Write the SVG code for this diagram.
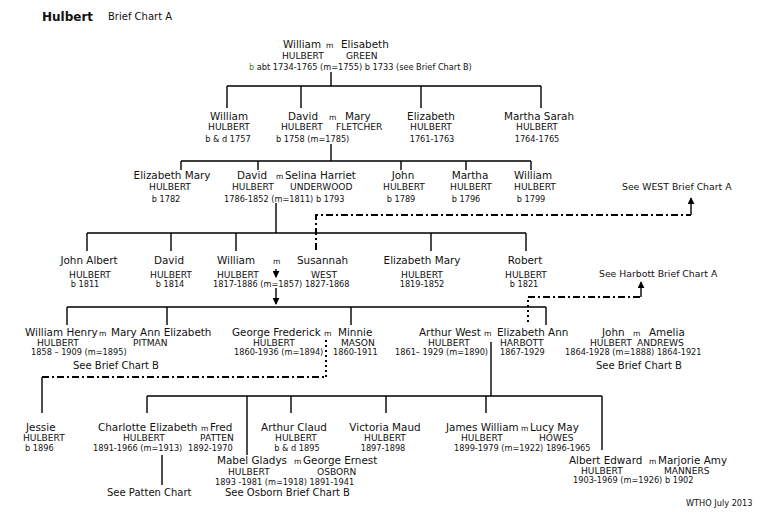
<svg xmlns="http://www.w3.org/2000/svg" width="774" height="523" viewBox="0 0 774 523">
<style>
text{font-family:"DejaVu Sans","Liberation Sans",sans-serif;fill:#111}
.ttl{font-size:12px;font-weight:bold}
.sub{font-size:10px}
.nm{font-size:10.4px}
.sn{font-size:9.1px}
.dt{font-size:8.2px}
.mm{font-size:7.6px}
.see{font-size:10px}
.ref{font-size:9.3px}
.c{text-anchor:middle}
.ln{stroke:#000;stroke-width:1.4;fill:none}
.dd{stroke:#000;stroke-width:2;fill:none;stroke-dasharray:7,3,2,3}
.dot{stroke:#000;stroke-width:2;fill:none;stroke-dasharray:2,3}
</style>
<defs>
<marker id="ah" viewBox="0 0 8 8" refX="7" refY="4" markerWidth="7" markerHeight="7" orient="auto" markerUnits="userSpaceOnUse">
<path d="M0,0 L8,4 L0,8 Z" fill="#000"/>
</marker>
</defs>
<rect width="774" height="523" fill="#fff"/>

<g id="title">
<text class="ttl" x="42" y="21">Hulbert</text>
<text class="sub" x="108" y="20">Brief Chart A</text>
</g>

<g id="connectors">
<!-- generation 1 -->
<path class="ln" d="M331,72 V86 M227,86 H541 M227,86 V108 M301,86 V108 M421,86 V108 M541,86 V108"/>
<!-- generation 2 -->
<path class="ln" d="M331,144 V161 M181,161 H531 M181,161 V170 M258,161 V170 M401,161 V170 M466,161 V170 M531,161 V170"/>
<!-- generation 3 -->
<path class="ln" d="M276,203 V233 M87,233 H526 M87,233 V251 M171,233 V251 M236,233 V251 M431,233 V251 M526,233 V251"/>
<!-- William & Susannah arrows -->
<path class="ln" d="M276,269 V277" marker-end="url(#ah)"/>
<path class="ln" d="M276,288 V304" marker-end="url(#ah)"/>
<!-- generation 4 -->
<path class="ln" d="M67,307 H546 M67,307 V325 M167,307 V325 M351,307 V325 M546,307 V325"/>
<path class="ln" d="M491,342 V396"/>
<!-- generation 5 -->
<path class="ln" d="M147,396 H602 M147,396 V413 M247,396 V455 M291,396 V413 M386,396 V413 M486,396 V413 M602,396 V450"/>
<path class="ln" d="M162,455 V485"/>
<!-- WEST link -->
<path class="dd" d="M316,250 V215 H691"/>
<path class="ln" d="M691,215 V198" marker-end="url(#ah)"/>
<!-- Harbott link -->
<path class="dot" d="M528,322 V297"/>
<path class="dd" d="M528,297 H641"/>
<path class="ln" d="M641,297 V282" marker-end="url(#ah)"/>
<!-- Jessie link -->
<path class="ln" d="M42,413 V377"/>
<path class="dd" d="M42,377 H326"/>
<path class="dot" d="M326,377 V338"/>
</g>

<g id="william-elisabeth">
<text class="nm" x="283" y="48">William</text>
<text class="mm" x="326" y="48">m</text>
<text class="nm" x="341" y="48">Elisabeth</text>
<text class="sn" x="282" y="58.5">HULBERT</text>
<text class="sn" x="346" y="58.5">GREEN</text>
<text class="dt" x="249" y="69.5"><tspan fill="#4a7d2a">b</tspan> abt 1734-1765 (m=1755) b 1733 (see Brief Chart B)</text>
</g>

<g id="william-1757">
<text class="nm c" x="229" y="120">William</text>
<text class="sn c" x="229" y="129.5">HULBERT</text>
<text class="dt c" x="228" y="142">b &amp; d 1757</text>
</g>
<g id="david-mary">
<text class="nm" x="288" y="120">David</text>
<text class="mm" x="329" y="120">m</text>
<text class="nm" x="345" y="120">Mary</text>
<text class="sn" x="281" y="129.5">HULBERT</text>
<text class="sn" x="336" y="129.5">FLETCHER</text>
<text class="dt" x="276" y="142">b 1758  (m=1785)</text>
</g>
<g id="elizabeth-1761">
<text class="nm c" x="431" y="120">Elizabeth</text>
<text class="sn c" x="431" y="129.5">HULBERT</text>
<text class="dt c" x="432" y="142">1761-1763</text>
</g>
<g id="martha-sarah">
<text class="nm c" x="539" y="120">Martha Sarah</text>
<text class="sn c" x="537" y="129.5">HULBERT</text>
<text class="dt c" x="537" y="142">1764-1765</text>
</g>

<g id="elizabeth-mary-1782">
<text class="nm c" x="172" y="179">Elizabeth Mary</text>
<text class="sn c" x="170" y="190">HULBERT</text>
<text class="dt c" x="166" y="202">b 1782</text>
</g>
<g id="david-selina">
<text class="nm" x="237" y="179">David</text>
<text class="mm" x="276" y="179">m</text>
<text class="nm" x="285" y="179">Selina Harriet</text>
<text class="sn" x="232" y="190">HULBERT</text>
<text class="sn" x="290" y="190">UNDERWOOD</text>
<text class="dt" x="224" y="202">1786-1852 (m=1811)  b 1793</text>
</g>
<g id="john-1789">
<text class="nm c" x="403" y="179">John</text>
<text class="sn c" x="404" y="190">HULBERT</text>
<text class="dt c" x="401" y="202">b 1789</text>
</g>
<g id="martha-1796">
<text class="nm c" x="470" y="179">Martha</text>
<text class="sn c" x="471" y="190">HULBERT</text>
<text class="dt c" x="466" y="202">b 1796</text>
</g>
<g id="william-1799">
<text class="nm c" x="533" y="179">William</text>
<text class="sn c" x="535" y="190">HULBERT</text>
<text class="dt c" x="531" y="202">b 1799</text>
</g>
<g id="see-west">
<text class="ref" x="622" y="190">See WEST Brief Chart A</text>
</g>

<g id="john-albert">
<text class="nm c" x="89" y="264">John Albert</text>
<text class="sn c" x="90" y="277.5">HULBERT</text>
<text class="dt c" x="85" y="286.5">b 1811</text>
</g>
<g id="david-1814">
<text class="nm c" x="169" y="264">David</text>
<text class="sn c" x="171" y="277.5">HULBERT</text>
<text class="dt c" x="170" y="286.5">b 1814</text>
</g>
<g id="william-susannah">
<text class="nm" x="217" y="264">William</text>
<text class="mm" x="273" y="264">m</text>
<text class="nm" x="297" y="264">Susannah</text>
<text class="sn" x="217" y="277.5">HULBERT</text>
<text class="sn" x="311" y="277.5">WEST</text>
<text class="dt" x="213" y="286.5">1817-1886 (m=1857) 1827-1868</text>
</g>
<g id="elizabeth-mary-1819">
<text class="nm c" x="422" y="264">Elizabeth Mary</text>
<text class="sn c" x="422" y="277.5">HULBERT</text>
<text class="dt c" x="422" y="286.5">1819-1852</text>
</g>
<g id="robert">
<text class="nm c" x="525" y="264">Robert</text>
<text class="sn c" x="526" y="277.5">HULBERT</text>
<text class="dt c" x="524" y="286.5">b 1821</text>
</g>
<g id="see-harbott">
<text class="ref" x="599" y="277">See Harbott Brief Chart  A</text>
</g>

<g id="william-henry-mary-ann">
<text class="nm" x="25" y="335.5">William Henry</text>
<text class="mm" x="99" y="335.5">m</text>
<text class="nm" x="111" y="335.5">Mary Ann Elizabeth</text>
<text class="sn" x="37" y="345.5">HULBERT</text>
<text class="sn" x="133" y="345.5">PITMAN</text>
<text class="dt" x="31" y="355">1858 – 1909 (m=1895)</text>
<text class="see" x="73" y="369">See Brief Chart B</text>
</g>
<g id="george-minnie">
<text class="nm" x="232" y="335.5">George Frederick</text>
<text class="mm" x="324" y="335.5">m</text>
<text class="nm" x="338" y="335.5">Minnie</text>
<text class="sn" x="253" y="345.5">HULBERT</text>
<text class="sn" x="341" y="345.5">MASON</text>
<text class="dt" x="234" y="355">1860-1936 (m=1894)</text>
<text class="dt" x="333" y="355">1860-1911</text>
</g>
<g id="arthur-elizabeth">
<text class="nm" x="419" y="335.5">Arthur West</text>
<text class="mm" x="484" y="335.5">m</text>
<text class="nm" x="497" y="335.5">Elizabeth Ann</text>
<text class="sn" x="428" y="345.5">HULBERT</text>
<text class="sn" x="500" y="345.5">HARBOTT</text>
<text class="dt" x="395" y="355">1861– 1929 (m=1890)</text>
<text class="dt" x="500" y="355">1867-1929</text>
</g>
<g id="john-amelia">
<text class="nm" x="602" y="335.5">John</text>
<text class="mm" x="633" y="335.5">m</text>
<text class="nm" x="649" y="335.5">Amelia</text>
<text class="sn" x="590" y="345.5">HULBERT</text>
<text class="sn" x="637" y="345.5">ANDREWS</text>
<text class="dt" x="565" y="355">1864-1928 (m=1888) 1864-1921</text>
<text class="see" x="596" y="369">See Brief Chart B</text>
</g>

<g id="jessie">
<text class="nm" x="26" y="430.5">Jessie</text>
<text class="sn" x="23" y="441">HULBERT</text>
<text class="dt" x="25" y="450.5">b 1896</text>
</g>
<g id="charlotte-fred">
<text class="nm" x="98" y="430.5">Charlotte Elizabeth</text>
<text class="mm" x="201" y="430.5">m</text>
<text class="nm" x="210" y="430.5">Fred</text>
<text class="sn" x="123" y="441">HULBERT</text>
<text class="sn" x="200" y="441">PATTEN</text>
<text class="dt" x="93" y="450.5">1891-1966 (m=1913)</text>
<text class="dt" x="188" y="450.5">1892-1970</text>
<text class="see" x="107" y="496">See Patten Chart</text>
</g>
<g id="mabel-george">
<text class="nm" x="217" y="464">Mabel Gladys</text>
<text class="mm" x="294" y="464">m</text>
<text class="nm" x="303" y="464">George Ernest</text>
<text class="sn" x="228" y="474.5">HULBERT</text>
<text class="sn" x="317" y="474.5">OSBORN</text>
<text class="dt" x="215" y="484.5">1893 -1981 (m=1918) 1891-1941</text>
<text class="see" x="225" y="496">See Osborn Brief Chart B</text>
</g>
<g id="arthur-claud">
<text class="nm c" x="294" y="430.5">Arthur Claud</text>
<text class="sn c" x="296" y="441">HULBERT</text>
<text class="dt c" x="297" y="450.5">b &amp; d 1895</text>
</g>
<g id="victoria-maud">
<text class="nm c" x="385" y="430.5">Victoria Maud</text>
<text class="sn c" x="385" y="441">HULBERT</text>
<text class="dt c" x="383" y="450.5">1897-1898</text>
</g>
<g id="james-lucy">
<text class="nm" x="446" y="430.5">James William</text>
<text class="mm" x="521" y="430.5">m</text>
<text class="nm" x="530" y="430.5">Lucy May</text>
<text class="sn" x="461" y="441">HULBERT</text>
<text class="sn" x="539" y="441">HOWES</text>
<text class="dt" x="454" y="450.5">1899-1979 (m=1922) 1896-1965</text>
</g>
<g id="albert-marjorie">
<text class="nm" x="569" y="464">Albert Edward</text>
<text class="mm" x="649" y="464">m</text>
<text class="nm" x="658" y="464">Marjorie Amy</text>
<text class="sn" x="581" y="474">HULBERT</text>
<text class="sn" x="664" y="474">MANNERS</text>
<text class="dt" x="573" y="483">1903-1969 (m=1926) b 1902</text>
</g>
<g id="footer">
<text class="dt" x="686" y="506">WTHO July 2013</text>
</g>
</svg>
